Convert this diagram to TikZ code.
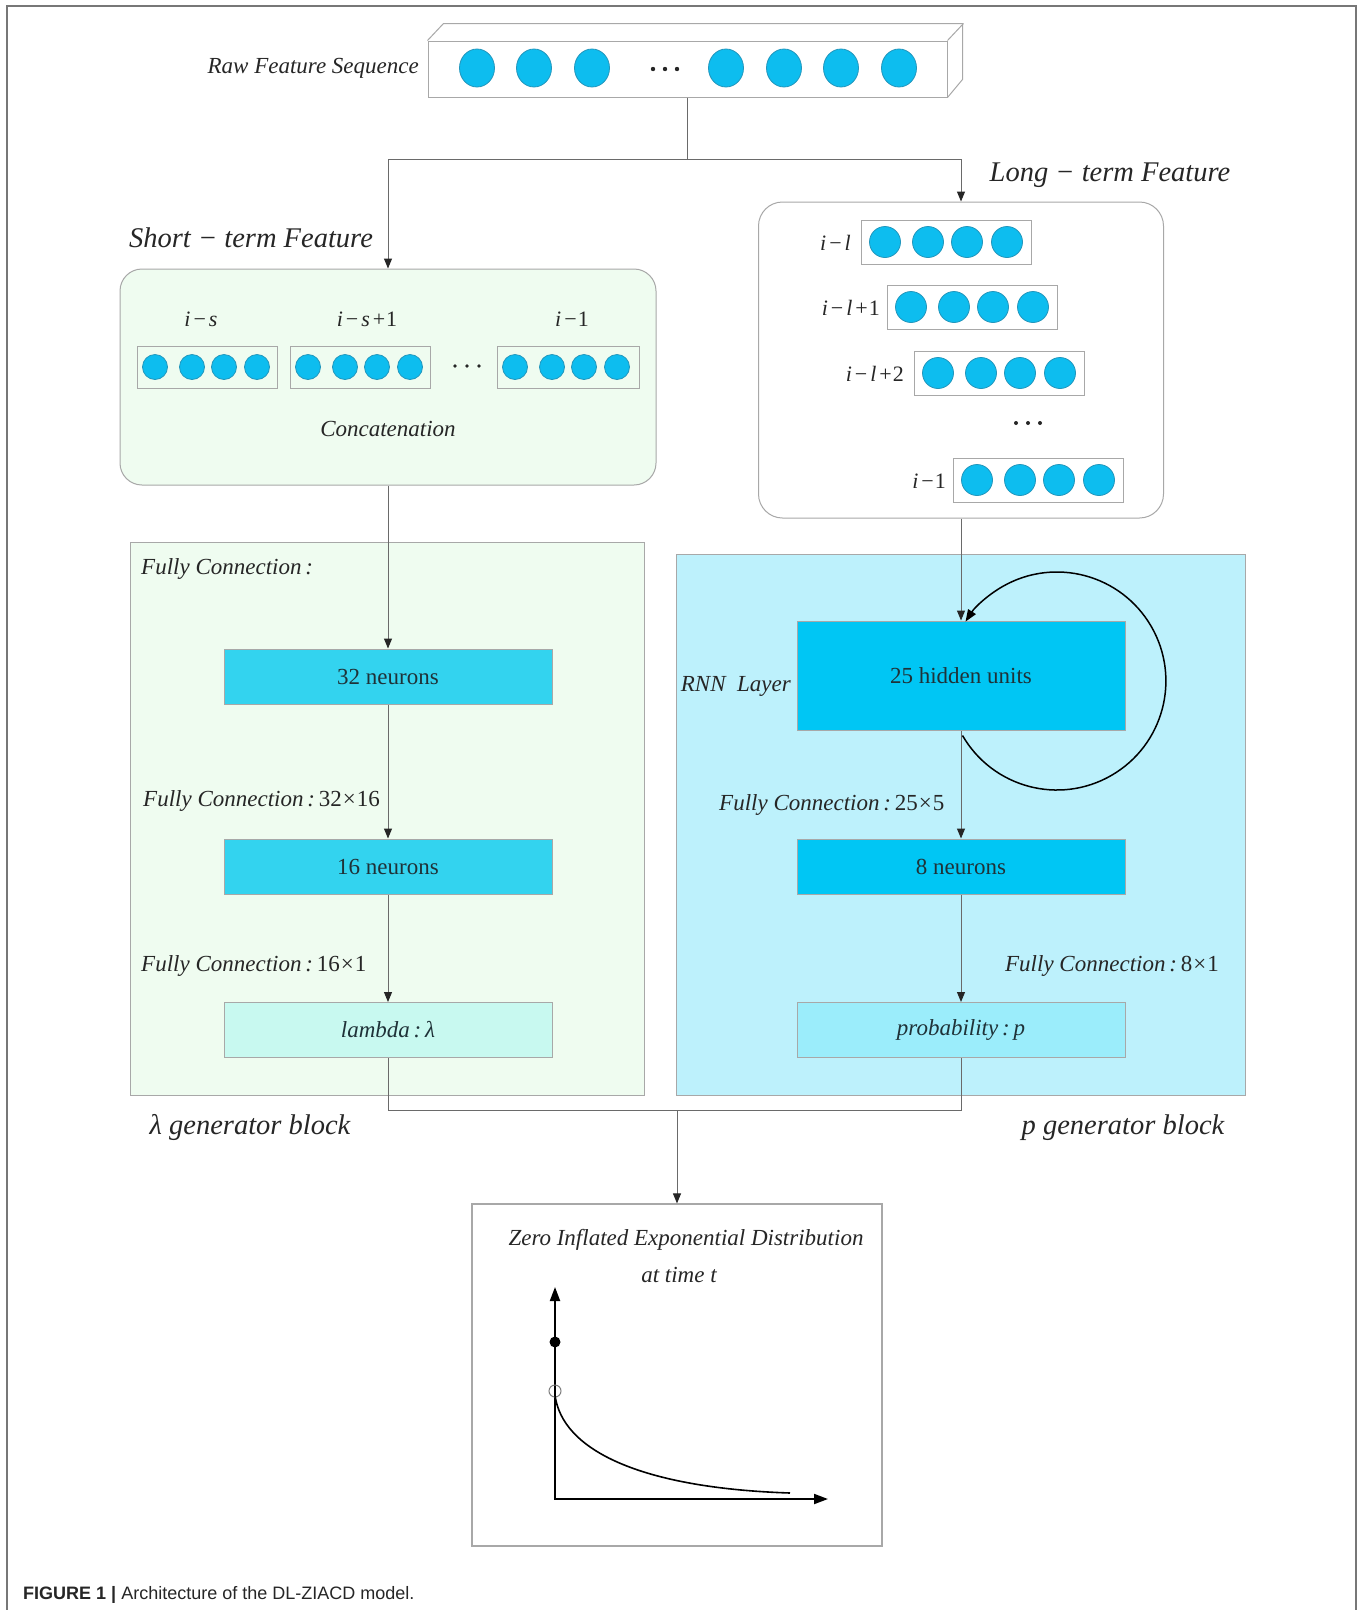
\documentclass[tikz,border=0pt]{standalone}
\usepackage{fontspec}
\setmainfont{Liberation Serif}
\newfontfamily\capfont{Liberation Sans}
\usetikzlibrary{arrows.meta,shapes.geometric,calc}

\definecolor{txt}{HTML}{262626}
\definecolor{boxtxt}{HTML}{1F3238}
\definecolor{lgreen}{HTML}{EFFCF0}
\definecolor{pblue}{HTML}{BDF1FC}
\definecolor{cyanA}{HTML}{33D3EF}
\definecolor{cyanB}{HTML}{00C6F4}
\definecolor{mint}{HTML}{C8F9F0}
\definecolor{probc}{HTML}{9BEDFB}
\definecolor{dotfill}{HTML}{0DBDEF}
\definecolor{dotdraw}{HTML}{2296BC}
\definecolor{edge}{HTML}{A8A8A8}
\definecolor{conn}{HTML}{6A6A6A}
\definecolor{framec}{HTML}{777777}

\begin{document}
\begin{tikzpicture}[x=1pt,y=-1pt,
  lbl/.style={font=\fontsize{23}{27}\selectfont\itshape, text=txt, inner sep=0pt},
  biglbl/.style={font=\fontsize{28.5}{33}\selectfont\itshape, text=txt, inner sep=0pt},
  layerbox/.style={draw=edge, line width=1pt, minimum width=328pt, minimum height=55pt, font=\rmfamily\fontsize{23}{27}\selectfont, text=boxtxt, inner sep=0pt},
  seqbox/.style={draw=edge, line width=1pt, minimum height=42pt, inner sep=0pt},
  bigdot/.style={ellipse, fill=dotfill, draw=dotdraw, line width=0.8pt, minimum width=35pt, minimum height=38pt, inner sep=0pt},
  sdot/.style={circle, fill=dotfill, draw=dotdraw, line width=0.8pt, minimum size=25pt, inner sep=0pt},
  ldot/.style={circle, fill=dotfill, draw=dotdraw, line width=0.8pt, minimum size=31pt, inner sep=0pt},
  conn/.style={draw=conn, line width=1pt},
  arr/.style={conn, -{Triangle[length=10pt,width=8pt,color=txt]}},
  blockbox/.style={draw=edge, line width=1pt, inner sep=0pt}
]
\useasboundingbox (0,0) rectangle (1363,1610);
\fill[white] (0,0) rectangle (1363,1610);

% outer frame
\draw[framec, line width=2pt] (7,1610) -- (7,6) -- (1356,6) -- (1356,1610);

% raw feature bar
\node[draw=edge, line width=1pt, fill=white, minimum width=519pt, minimum height=56pt, inner sep=0pt] (raw) at (687.5,69) {};
\draw[edge, line width=1pt] (raw.north west) -- ++(16,-17) -- ++(519,0) -- ++(0,56) -- (raw.south east);
\draw[edge, line width=1pt] (raw.north east) -- ++(16,-17);
\foreach \x [count=\i] in {477,534,592,726,784,841,899}
  \node[bigdot] (r\i) at (\x,68) {};
\foreach \x in {653,665,677} \fill[txt] (\x,69) circle (2.2);
\node[lbl, anchor=east] (rawlbl) at (419,68) {Raw Feature Sequence};

% short-term box
\node[draw=edge, fill=lgreen, rounded corners=22pt, line width=1pt, minimum width=536pt, minimum height=216pt, inner sep=0pt] (short) at (388,377) {};
\node[biglbl] (stlbl) at (251,238) {Short − term Feature};
\node[seqbox, minimum width=140pt, anchor=west] (s1) at (137,367) {};
\node[seqbox, minimum width=140pt, anchor=west] (s2) at (290,367) {};
\node[seqbox, minimum width=142pt, anchor=west] (s3) at (497,367) {};
\foreach \b in {s1,s2,s3}
  \foreach \o [count=\j] in {18,55,87,120}
    \node[sdot] (\b d\j) at ($(\b.west)+(\o,0)$) {};
\foreach \x in {455,467,479} \fill[txt] (\x,366) circle (1.9);
\node[lbl, font=\fontsize{22}{26}\selectfont] (ls1) at (201,319) {\textit{i}\kern3pt−\kern3pt\textit{s}};
\node[lbl, font=\fontsize{22}{26}\selectfont] (ls2) at (367,319) {\textit{i}\kern3pt−\kern3pt\textit{s}\kern3pt+\kern1pt1};
\node[lbl, font=\fontsize{22}{26}\selectfont] (ls3) at (572,319) {\textit{i}\kern3pt−\kern1pt1};
\node[lbl] (concat) at (388,429) {Concatenation};

% long-term box
\node[draw=edge, fill=white, rounded corners=24pt, line width=1pt, minimum width=405pt, minimum height=316pt, inner sep=0pt] (long) at (961,360) {};
\node[biglbl] (ltlbl) at (1110,175) {Long − term Feature};
\node[seqbox, minimum width=170pt, minimum height=44pt, anchor=west] (l1) at (861,242) {};
\node[seqbox, minimum width=170pt, minimum height=44pt, anchor=west] (l2) at (887,307) {};
\node[seqbox, minimum width=170pt, minimum height=44pt, anchor=west] (l3) at (914,373) {};
\node[seqbox, minimum width=170pt, minimum height=44pt, anchor=west] (l4) at (953,480) {};
\foreach \b in {l1,l2,l3,l4}
  \foreach \o [count=\j] in {24,67,106,146}
    \node[ldot] (\b d\j) at ($(\b.west)+(\o,0)$) {};
\node[lbl, font=\fontsize{22}{26}\selectfont, anchor=east] (ll1) at ($(l1.west)+(-10,1)$) {\textit{i}\kern3pt−\kern3pt\textit{l}};
\node[lbl, font=\fontsize{22}{26}\selectfont, anchor=east] (ll2) at ($(l2.west)+(-7,1)$) {\textit{i}\kern3pt−\kern3pt\textit{l}\kern3pt+\kern1pt1};
\node[lbl, font=\fontsize{22}{26}\selectfont, anchor=east] (ll3) at ($(l3.west)+(-10,1)$) {\textit{i}\kern3pt−\kern3pt\textit{l}\kern3pt+\kern1pt2};
\node[lbl, font=\fontsize{22}{26}\selectfont, anchor=east] (ll4) at ($(l4.west)+(-7,1)$) {\textit{i}\kern3pt−\kern1pt1};
\foreach \x in {1016,1028,1040} \fill[txt] (\x,423) circle (2);

% split from raw bar
\coordinate (split) at (687.5,159);
\draw[conn] (raw.south) -- (split);
\draw[arr] (split) -| (short.north);
\draw[arr] (split) -| (long.north);

% generator blocks
\node[blockbox, fill=lgreen, minimum width=514pt, minimum height=553pt] (lamblock) at (387,818.5) {};
\node[blockbox, fill=pblue, minimum width=569pt, minimum height=541pt] (pblock) at (960.5,824.5) {};

% layers
\node[layerbox, fill=cyanA] (n32) at (388,676.5) {32 neurons};
\node[layerbox, fill=cyanA] (n16) at (388,866.5) {16 neurons};
\node[layerbox, fill=mint, font=\fontsize{23}{27}\selectfont\itshape] (lam) at (388,1030) {lambda\,:\,λ};
\node[layerbox, fill=cyanB, minimum height=109pt] (rnn) at (961,675.5) {25 hidden units};
\node[layerbox, fill=cyanB] (n8) at (961,866.5) {8 neurons};
\node[layerbox, fill=probc, font=\fontsize{23}{27}\selectfont\itshape] (prob) at (961,1030) {probability\,:\,p};

% labels
\node[lbl, anchor=west] (fc0) at (141,569) {Fully Connection\,:};
\node[lbl, anchor=west] (fc1) at (143,801) {Fully Connection\,:\,{\upshape 32\kern1pt×\kern1pt16}};
\node[lbl, anchor=west] (fc2) at (141,966) {Fully Connection\,:\,{\upshape 16\kern1pt×\kern1pt1}};
\node[lbl, anchor=east] (rnnlbl) at (791,686) {RNN\ \ Layer};
\node[lbl, anchor=west] (fc3) at (719,805) {Fully Connection\,:\,{\upshape 25\kern1pt×\kern1pt5}};
\node[lbl, anchor=east] (fc4) at (1219,966) {Fully Connection\,:\,{\upshape 8\kern1pt×\kern1pt1}};

% connectors
\draw[arr] (short.south) -- (n32.north);
\draw[arr] (n32.south) -- (n16.north);
\draw[arr] (n16.south) -- (lam.north);
\draw[arr] (long.south) -- (rnn.north);
\draw[arr] (rnn.south) -- (n8.north);
\draw[arr] (n8.south) -- (prob.north);

% recurrent loop
\coordinate (loopS) at (962.5,735.5);
\draw[black, line width=1.5pt, -{Triangle[length=12pt,width=9pt]}] (loopS) arc[start angle=150, end angle=-147, radius=109];

% merge
\node[draw=edge, fill=white, line width=1.2pt, minimum width=410pt, minimum height=342pt, inner sep=0pt] (zied) at (677,1375) {};
\coordinate (mR) at (961,1110);
\coordinate (mM) at (677,1110);
\draw[conn] (lam.south) |- (mR) -- (prob.south);
\draw[arr] (mM) -- (zied.north);

\node[biglbl] (lamlbl) at (250,1127) {λ generator block};
\node[biglbl] (plbl) at (1123,1128) {p generator block};

% distribution plot
\node[lbl] (zt1) at (686,1240) {Zero Inflated Exponential Distribution};
\node[lbl] (zt2) at (679,1275) {at time t};
\coordinate (org) at (555,1499);
\coordinate (ytop) at (555,1287);
\coordinate (xend) at (828,1499);
\draw[black, line width=2pt, {Triangle[length=14pt,width=10pt]}-{Triangle[length=14pt,width=10pt]}] (ytop) -- (org) -- (xend);
\node[circle, fill=black, minimum size=11pt, inner sep=0pt] (pm) at (555,1342) {};
\node[circle, draw=gray, line width=1pt, minimum size=12pt, inner sep=0pt] (oc) at (555,1391) {};
\draw[black, line width=1.6pt] (555,1395) .. controls (562,1450) and (640,1488) .. (790,1493);

% caption
\node[anchor=west, inner sep=0pt, font=\capfont\fontsize{18}{22}\selectfont, text=txt] (cap) at (23,1595) {\textbf{FIGURE 1 |} Architecture of the DL-ZIACD model.};
\end{tikzpicture}
\end{document}
